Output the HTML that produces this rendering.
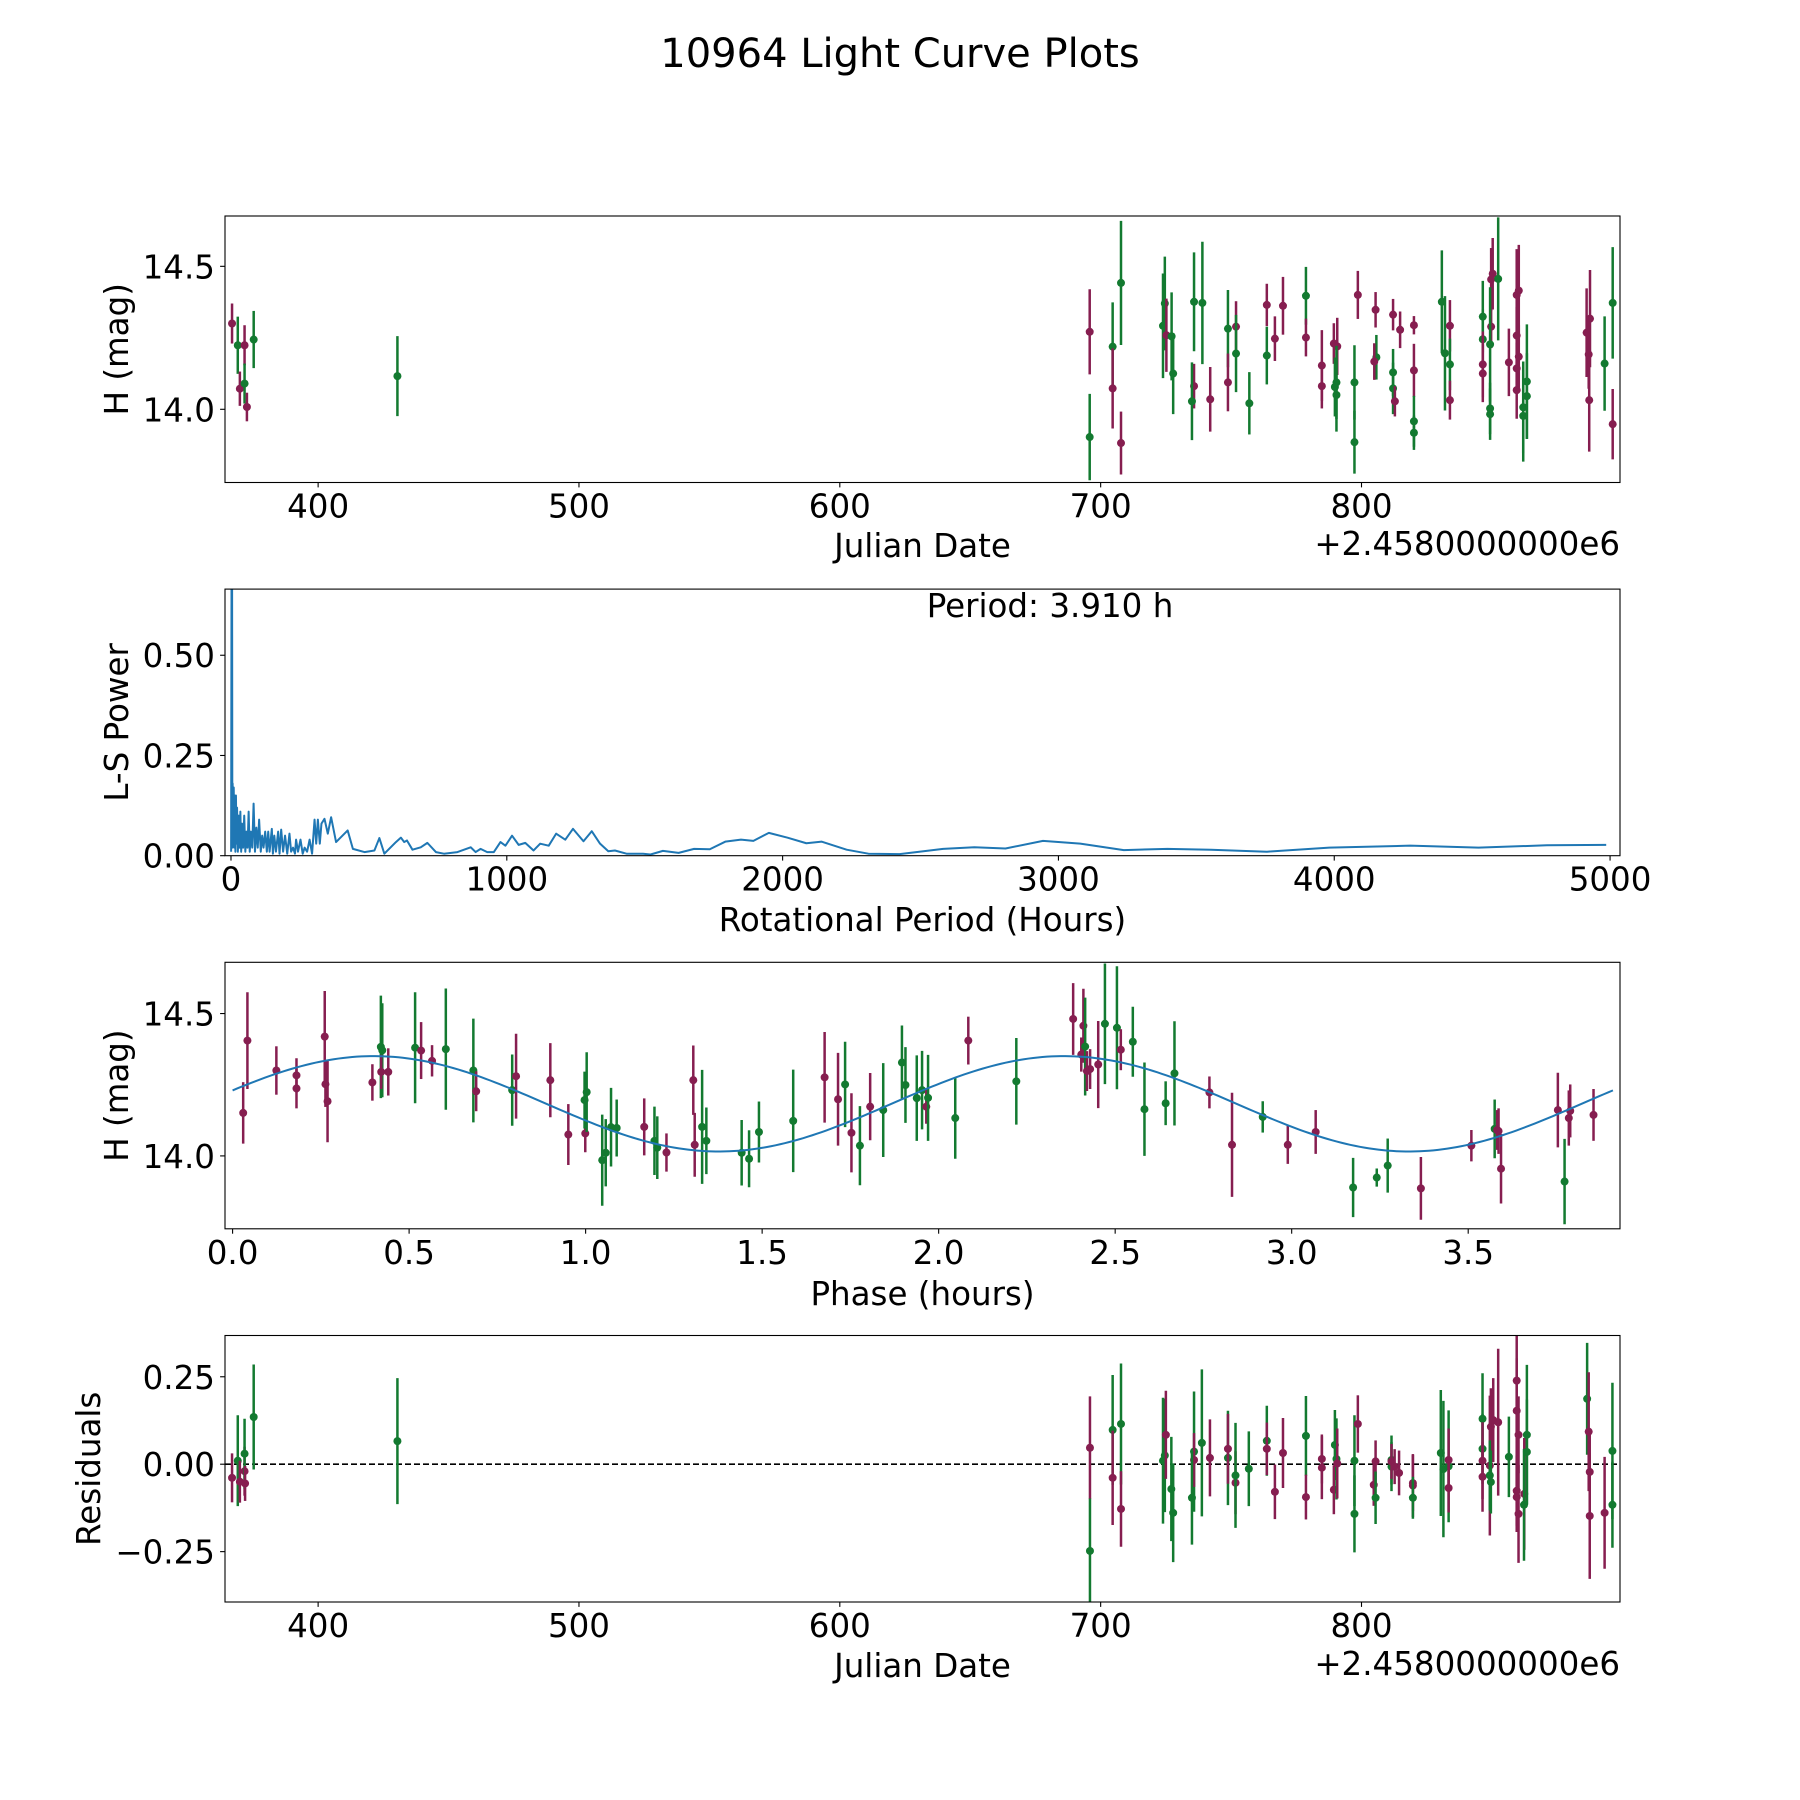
<!DOCTYPE html>
<html><head><meta charset="utf-8"><title>10964 Light Curve Plots</title>
<style>html,body{margin:0;padding:0;background:#fff}svg{display:block}text{font-family:"DejaVu Sans","Liberation Sans",sans-serif;fill:#000}</style>
</head><body>
<svg id="fig" xmlns="http://www.w3.org/2000/svg" width="1800" height="1800" viewBox="0 0 1800 1800">
<rect width="1800" height="1800" fill="#fff"/>
<text x="900" y="67" font-size="40" text-anchor="middle">10964 Light Curve Plots</text>
</svg>
<script>
// ---- Panel 1: light curve (JD offset from 2458000) ----
const lcJD  = [367.0,369.2,370.0,371.8,371.8,372.7,375.3,430.4,
695.8,695.8,704.6,704.6,707.8,707.8,723.9,724.6,725.2,727.2,727.8,735.8,735.8,735.0,739.0,742.0,748.8,748.8,751.9,751.9,757.0,763.7,763.7,766.8,769.9,778.7,778.7,784.8,784.8,789.4,790.7,789.8,790.4,790.4,797.3,797.3,
798.6,805.4,805.7,804.9,812.1,812.1,812.1,812.8,814.8,820.1,820.1,820.1,820.1,830.8,832.0,833.9,833.9,833.9,846.5,846.5,846.5,846.5,849.7,850.3,849.7,849.3,849.3,849.3,852.4,856.5,859.5,860.3,859.5,860.3,859.5,859.5,862.0,862.0,863.4,863.4,886.3,887.6,887.1,887.3,893.2,896.3,896.3];
const lcMag = [14.30,14.224,14.072,14.224,14.09,14.008,14.244,14.116,
14.271,13.903,14.219,14.073,14.442,13.882,14.292,14.370,14.259,14.255,14.125,14.376,14.081,14.028,14.372,14.035,14.282,14.094,14.289,14.195,14.021,14.188,14.365,14.247,14.362,14.397,14.251,14.153,14.081,14.230,14.220,14.078,14.094,14.050,14.094,13.885,
14.400,14.348,14.182,14.167,14.331,14.129,14.073,14.028,14.278,14.294,14.136,13.958,13.918,14.376,14.196,14.292,14.157,14.032,14.324,14.245,14.157,14.125,14.454,14.474,14.289,14.227,14.003,13.983,14.456,14.164,14.400,14.415,14.258,14.184,14.143,14.067,14.007,13.977,14.097,14.046,14.268,14.317,14.192,14.032,14.160,14.372,13.948];
const lcErr = [0.07,0.10,0.06,0.07,0.07,0.05,0.10,0.14,
0.149,0.151,0.155,0.140,0.217,0.110,0.183,0.164,0.128,0.154,0.142,0.173,0.078,0.136,0.214,0.113,0.135,0.101,0.089,0.135,0.109,0.101,0.074,0.078,0.101,0.101,0.066,0.124,0.078,0.071,0.10,0.103,0.128,0.128,0.13,0.110,
0.084,0.062,0.078,0.064,0.055,0.082,0.09,0.053,0.064,0.032,0.093,0.089,0.06,0.18,0.2,0.09,0.09,0.068,0.125,0.105,0.115,0.10,0.11,0.125,0.075,0.2,0.09,0.09,0.215,0.118,0.16,0.16,0.10,0.11,0.09,0.10,0.16,0.16,0.2,0.15,0.155,0.17,0.12,0.18,0.165,0.195,0.123];
const lcBand = "MGMMGMGG"+"MGGMGMGGMGGGMGGMGMMGGGMMMGMMMMMGGGGG"+"MMGMMGGMMMMGGGGMGMGGMMMMMGGGGMMMMMMMGGGGMMMMGGM";

// ---- Panel 2: periodogram ----
const lsPeriod = [0.5,2,3,4,5,6,8,10,12,14,16,18,20,22,25,28,31,34,37,40,44,48,52,56,60,64,68,72,77,82,87,92,97,102,108,113,118,124,130,135,140,148,152,157,163,171,176,182,189,196,204,212,218,225,232,236,243,252,260,267,276,285,294,303,309,315,322,328,339,351,363,381,423,442,484,520,538,556,598,616,628,638,658,688,712,743,772,821,869,887,905,929,953,977,995,1019,1043,1067,1097,1121,1152,1179,1212,1240,1278,1308,1338,1368,1392,1434,1494,1521,1566,1623,1679,1736,1792,1849,1894,1950,2018,2086,2142,2232,2311,2424,2582,2695,2808,2944,3079,3237,3395,3553,3756,3982,4275,4523,4771,4986];
const lsPower = [0.01,0.72,0.05,0.70,0.02,0.18,0.03,0.17,0.02,0.15,0.01,0.15,0.03,0.12,0.01,0.10,0.02,0.11,0.01,0.08,0.02,0.10,0.01,0.06,0.02,0.11,0.01,0.06,0.02,0.13,0.01,0.07,0.02,0.09,0.01,0.05,0.02,0.06,0.01,0.06,0.01,0.067,0.005,0.05,0.01,0.06,0.005,0.065,0.01,0.05,0.005,0.055,0.01,0.02,0.005,0.04,0.01,0.04,0.005,0.02,0.01,0.04,0.005,0.09,0.03,0.09,0.03,0.08,0.092,0.055,0.096,0.034,0.063,0.017,0.009,0.013,0.044,0.005,0.034,0.045,0.034,0.038,0.015,0.021,0.032,0.009,0.005,0.009,0.021,0.009,0.017,0.009,0.009,0.034,0.025,0.050,0.027,0.032,0.013,0.030,0.025,0.055,0.040,0.067,0.036,0.061,0.030,0.011,0.013,0.005,0.005,0.003,0.012,0.007,0.017,0.016,0.035,0.040,0.037,0.057,0.045,0.031,0.035,0.015,0.005,0.004,0.017,0.021,0.018,0.037,0.030,0.014,0.017,0.015,0.010,0.020,0.025,0.020,0.026,0.027];
const bestPeriod = "3.910";

// ---- Panel 3: phased light curve ----
const phPhase = [0.030,0.042,0.124,0.181,0.181,0.261,0.263,0.269,0.396,0.420,0.424,0.421,0.441,0.517,0.534,0.565,0.604,0.682,0.690,0.792,0.803,0.900,0.951,0.999,0.997,1.003,1.047,1.057,1.072,1.088,1.166,1.195,1.203,1.229,1.305,1.309,1.330,1.342,1.442,1.463,1.491,1.588,1.677,1.715,1.735,1.753,1.777,1.806,1.843,1.896,1.906,1.938,1.953,1.965,1.970,2.047,2.084,2.220,2.381,2.410,2.404,2.415,2.420,2.429,2.452,2.471,2.505,2.516,2.550,2.583,2.643,2.668,2.767,2.831,2.918,2.989,3.068,3.174,3.241,3.272,3.366,3.509,3.575,3.582,3.586,3.593,3.754,3.773,3.785,3.789,3.855];
const phMag = [14.151,14.405,14.300,14.283,14.237,14.419,14.252,14.192,14.258,14.383,14.371,14.295,14.295,14.380,14.370,14.334,14.375,14.300,14.227,14.231,14.280,14.266,14.075,14.079,14.196,14.224,13.985,14.011,14.101,14.098,14.102,14.053,14.029,14.012,14.266,14.039,14.102,14.053,14.011,13.990,14.084,14.123,14.276,14.199,14.251,14.081,14.036,14.173,14.161,14.328,14.249,14.203,14.231,14.173,14.204,14.133,14.405,14.262,14.481,14.457,14.356,14.384,14.298,14.305,14.321,14.464,14.450,14.373,14.401,14.164,14.185,14.290,14.223,14.039,14.137,14.039,14.084,13.889,13.924,13.966,13.886,14.036,14.095,14.091,14.087,13.955,14.161,13.910,14.133,14.158,14.144];
const phErr = [0.108,0.17,0.085,0.06,0.07,0.16,0.08,0.144,0.064,0.18,0.165,0.06,0.083,0.195,0.10,0.055,0.213,0.182,0.07,0.125,0.149,0.13,0.107,0.066,0.10,0.14,0.16,0.118,0.138,0.10,0.10,0.12,0.11,0.067,0.122,0.112,0.20,0.117,0.115,0.10,0.107,0.18,0.159,0.163,0.15,0.139,0.139,0.118,0.165,0.13,0.133,0.15,0.138,0.06,0.151,0.143,0.084,0.152,0.126,0.13,0.06,0.172,0.07,0.07,0.153,0.212,0.216,0.072,0.123,0.164,0.077,0.183,0.056,0.183,0.055,0.067,0.077,0.104,0.032,0.095,0.11,0.055,0.103,0.07,0.08,0.122,0.131,0.15,0.097,0.093,0.091];
const phBand = "MMMMMMMMMGGMMGMMGGMGMMMMGGGGGGMGGMMMGGGGGGMMGMGMGGGGGMGGMGMMMGMMMGGMGGGGMMGMMGGGMMGMMMMGMMM";
const fitMean = 14.183, fitAmp = 0.1675, fitHalfPeriod = 1.955, fitPeakPhase = 0.40;

// ---- Panel 4: residuals ----
const resJD = [367.0,369.2,370.0,371.8,371.8,372.0,375.3,430.4,
695.9,695.9,704.6,704.6,707.8,707.8,723.9,724.6,725.0,727.1,727.8,735.8,735.8,735.0,738.8,741.9,748.8,748.8,751.7,751.7,756.8,763.7,763.7,769.9,766.8,778.7,778.7,784.8,784.8,789.8,789.4,790.4,790.7,797.3,797.3,
798.6,804.7,805.4,805.4,811.5,811.5,811.5,812.7,814.4,819.7,819.7,819.7,830.4,831.4,833.4,833.4,833.4,846.4,846.4,846.4,846.4,849.6,850.5,849.2,849.2,849.6,852.4,856.5,859.5,859.5,860.2,859.5,859.5,860.2,862.4,862.3,863.4,863.4,886.5,887.1,887.5,887.5,893.2,896.2,896.2];
const resVal = [-0.039,0.01,-0.05,-0.02,0.03,-0.055,0.135,0.066,
0.047,-0.248,0.098,-0.039,0.115,-0.128,0.010,0.025,0.084,-0.071,-0.139,0.036,0.012,-0.096,0.061,0.018,0.018,0.044,-0.053,-0.032,-0.013,0.067,0.044,0.032,-0.079,0.081,-0.094,0.015,-0.010,0.055,-0.073,0.015,0.002,0.010,-0.142,
0.115,-0.059,0.008,-0.096,0.012,-0.007,0.008,-0.007,-0.025,-0.054,-0.061,-0.096,0.032,-0.014,-0.006,0.012,-0.068,0.130,0.044,0.010,-0.036,0.107,0.126,-0.004,-0.032,-0.051,0.120,0.021,0.239,0.153,0.084,-0.076,-0.094,-0.142,-0.085,-0.116,0.084,0.035,0.187,0.093,-0.022,-0.148,-0.139,0.038,-0.116];
const resErr = [0.07,0.13,0.06,0.07,0.10,0.05,0.15,0.18,
0.147,0.15,0.157,0.135,0.173,0.108,0.18,0.162,0.126,0.149,0.141,0.172,0.077,0.134,0.21,0.11,0.135,0.10,0.09,0.15,0.107,0.10,0.075,0.10,0.078,0.114,0.064,0.07,0.09,0.10,0.07,0.116,0.10,0.13,0.11,
0.082,0.06,0.06,0.075,0.07,0.07,0.05,0.05,0.064,0.08,0.09,0.06,0.18,0.195,0.16,0.09,0.07,0.13,0.10,0.11,0.10,0.11,0.12,0.2,0.10,0.09,0.21,0.115,0.16,0.15,0.11,0.10,0.10,0.14,0.16,0.16,0.2,0.15,0.16,0.17,0.12,0.18,0.16,0.195,0.123];
const resBand = "MGMMGMGG"+"MGGMGMGGMGGGMGGMGMMGGGMMMGMMMGMGMGG"+"MMMGGGMMMMMGGGGMMGGMMMMMGGMGMMMMMMMGGGGMMMMGGM";

const jdTicks = [400,500,600,700,800];
const magTicks = [14.0,14.5];
const lsXTicks = [0,1000,2000,3000,4000,5000];
const lsYTicks = [0.00,0.25,0.50];
const phTicks = [0.0,0.5,1.0,1.5,2.0,2.5,3.0,3.5];
const resTicks = [-0.25,0.00,0.25];

const NS = "http://www.w3.org/2000/svg";
const svg = document.getElementById('fig');
const L = 225, R = 1620, FS = 32.5;
const panels = [{t:216,b:482.5},{t:589.1,b:855.7},{t:962.3,b:1228.8},{t:1335.5,b:1602}];
const MAROON = "#861e50", GREEN = "#137a30", BLUE = "#1f77b4";
function mk(tag, attrs, parent){const e=document.createElementNS(NS,tag);for(const k in attrs)e.setAttribute(k,attrs[k]);(parent||svg).appendChild(e);return e;}
function lin(d0,d1,r0,r1){return v=>r0+(v-d0)/(d1-d0)*(r1-r0);}

function axesFrame(i,name){
  const p=panels[i];
  const g=mk('g',{});
  
  
  const cp=mk('clipPath',{id:'clip'+i},g);
  mk('rect',{x:L,y:p.t,width:R-L,height:p.b-p.t},cp);
  const plot=mk('g',{'clip-path':'url(#clip'+i+')'},g);
  return {g,plot,p};
}
function border(ax){
  const r=mk('rect',{x:L,y:ax.p.t,width:R-L,height:ax.p.b-ax.p.t,fill:'none',stroke:'#000','stroke-width':1.1},ax.g);
  
  
}
function xTicks(ax,ticks,sx,fmt,name){
  ticks.forEach(t=>{
    const x=sx(t);
    mk('line',{x1:x,x2:x,y1:ax.p.b,y2:ax.p.b+4.9,stroke:'#000','stroke-width':1.1},ax.g);
    const tx=mk('text',{x:x,y:ax.p.b+35,'font-size':FS,'text-anchor':'middle'},ax.g);
    tx.textContent=fmt(t);
    
    
  });
}
function yTicks(ax,ticks,sy,fmt,name){
  ticks.forEach(t=>{
    const y=sy(t);
    mk('line',{x1:L-4.9,x2:L,y1:y,y2:y,stroke:'#000','stroke-width':1.1},ax.g);
    const tx=mk('text',{x:L-10,y:y+12,'font-size':FS,'text-anchor':'end'},ax.g);
    tx.textContent=fmt(t);
    
    
  });
}
function label(ax,txt,x,y,rot,name,anchor){
  const t=mk('text',{x:x,y:y,'font-size':FS,'text-anchor':anchor||'middle'},ax.g);
  if(rot) t.setAttribute('transform','rotate(-90 '+x+' '+y+')');
  t.textContent=txt;
  
  
}
function errPoints(ax,xs,ys,es,bands,sx,sy,name){
  for(let i=0;i<xs.length;i++){
    const c=bands[i]==='G'?GREEN:MAROON;
    const x=sx(xs[i]);
    const bar=mk('line',{x1:x,x2:x,y1:sy(ys[i]-es[i]),y2:sy(ys[i]+es[i]),stroke:c,'stroke-width':2.5},ax.plot);
    
    
    const d=mk('circle',{cx:x,cy:sy(ys[i]),r:4,fill:c},ax.plot);
    
    
  }
}
const fmt1=v=>v.toFixed(1), fmt0=v=>String(v), fmt2=v=>(v<0?'\u2212':'')+Math.abs(v).toFixed(2);
const cy=(i)=>(panels[i].t+panels[i].b)/2;

// Panel 1
const sxJD=lin(364.3,899.1,L,R);
const ax1=axesFrame(0,'light-curve-panel');
const sy1=lin(13.744,14.676,panels[0].b,panels[0].t);
errPoints(ax1,lcJD,lcMag,lcErr,lcBand,sxJD,sy1,'light-curve');
border(ax1);
xTicks(ax1,jdTicks,sxJD,fmt0,'jd-tick-label');
yTicks(ax1,magTicks,sy1,fmt1,'mag-tick-label');
label(ax1,'Julian Date',922.5,557,false,'x-axis-title');
label(ax1,'+2.4580000000e6',1620,555,false,'x-axis-offset','end');
label(ax1,'H (mag)',128,cy(0),true,'y-axis-title');

// Panel 2
const ax2=axesFrame(1,'periodogram-panel');
const sx2=lin(-21.7,5036,L,R), sy2=lin(0,0.665,panels[1].b,panels[1].t);
let dpath='';
for(let i=0;i<lsPeriod.length;i++){dpath+=(i?'L':'M')+sx2(lsPeriod[i]).toFixed(2)+','+sy2(lsPower[i]).toFixed(2);}
const lsLine=mk('path',{d:dpath,fill:'none',stroke:BLUE,'stroke-width':2,'stroke-linejoin':'round'},ax2.plot);


border(ax2);
xTicks(ax2,lsXTicks,sx2,fmt0,'period-tick-label');
yTicks(ax2,lsYTicks,sy2,fmt2,'power-tick-label');
label(ax2,'Rotational Period (Hours)',922.5,931,false,'x-axis-title');
label(ax2,'L-S Power',128,cy(1),true,'y-axis-title');
label(ax2,'Period: '+bestPeriod+' h',1050,617,false,'period-annotation');

// Panel 3
const ax3=axesFrame(2,'phased-curve-panel');
const sx3=lin(-0.0215,3.93,L,R), sy3=lin(13.744,14.68,panels[2].b,panels[2].t);
errPoints(ax3,phPhase,phMag,phErr,phBand,sx3,sy3,'phased');
let fp='';
for(let k=0;k<=300;k++){const ph=k/300*3.91;const m=fitMean+fitAmp*Math.cos(2*Math.PI*(ph-fitPeakPhase)/fitHalfPeriod);fp+=(k?'L':'M')+sx3(ph).toFixed(2)+','+sy3(m).toFixed(2);}
const fitLine=mk('path',{d:fp,fill:'none',stroke:BLUE,'stroke-width':2},ax3.plot);


border(ax3);
xTicks(ax3,phTicks,sx3,fmt1,'phase-tick-label');
yTicks(ax3,magTicks,sy3,fmt1,'mag-tick-label');
label(ax3,'Phase (hours)',922.5,1305,false,'x-axis-title');
label(ax3,'H (mag)',128,cy(2),true,'y-axis-title');

// Panel 4
const ax4=axesFrame(3,'residuals-panel');
const sy4=lin(-0.394,0.368,panels[3].b,panels[3].t);
const zl=mk('line',{x1:L,x2:R,y1:sy4(0),y2:sy4(0),stroke:'#000','stroke-width':1.6,'stroke-dasharray':'6,3'},ax4.plot);


errPoints(ax4,resJD,resVal,resErr,resBand,sxJD,sy4,'residual');
border(ax4);
xTicks(ax4,jdTicks,sxJD,fmt0,'jd-tick-label');
yTicks(ax4,resTicks,sy4,fmt2,'residual-tick-label');
label(ax4,'Julian Date',922.5,1677,false,'x-axis-title');
label(ax4,'+2.4580000000e6',1620,1675,false,'x-axis-offset','end');
label(ax4,'Residuals',100,cy(3),true,'y-axis-title');
</script>
</body></html>
